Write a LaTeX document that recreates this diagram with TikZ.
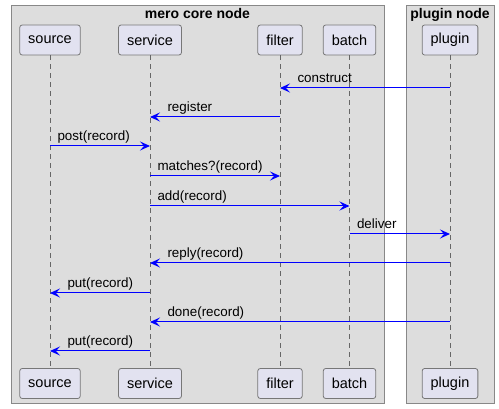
\documentclass[tikz,border=0pt]{standalone}
\usepackage{fontspec}
\setmainfont{Liberation Sans}
\usetikzlibrary{arrows.meta}

\definecolor{groupfill}{HTML}{DDDDDD}
\definecolor{groupline}{HTML}{888888}
\definecolor{partfill}{HTML}{E2E2F0}
\definecolor{partline}{HTML}{777777}
\definecolor{msgblue}{HTML}{0000FF}

\tikzset{
  group/.style={fill=groupfill, draw=groupline, line width=1pt},
  grouptitle/.style={anchor=base, font=\fontsize{14}{16}\selectfont\bfseries},
  part/.style={draw=partline, fill=partfill, rounded corners=2.5pt, line width=0.8pt,
    inner xsep=8.5pt, minimum height=30pt, font=\fontsize{14.5}{16}\selectfont},
  life/.style={draw=black!60, line width=0.8pt, dash pattern=on 5pt off 4pt},
  msg/.style={draw=msgblue, line width=1pt, -{Stealth[length=10pt, width=9pt, inset=4pt]}},
  lbl/.style={anchor=base west, yshift=5pt, inner sep=0pt, font=\fontsize{13.4}{15}\selectfont}
}

\begin{document}
\begin{tikzpicture}[x=1pt, y=-1pt]
    \useasboundingbox (0,0) rectangle (499,409);
    % the two groups
    \filldraw[group] (11,6) rectangle (384,404);
    \filldraw[group] (406,6) rectangle (494,404);
    \node[grouptitle] at (197.5,19) {mero core node};
    \node[grouptitle] at (450,19) {plugin node};
    % participants, top and bottom
    \node[part] (source) at (50,40) {source};
    \node[part] (service) at (150,40) {service};
    \node[part] (filter) at (280,40) {filter};
    \node[part] (batch) at (349.5,40) {batch};
    \node[part] (plugin) at (450,40) {plugin};
    \node[part] (sourceB) at (50,383.5) {source};
    \node[part] (serviceB) at (150,383.5) {service};
    \node[part] (filterB) at (280,383.5) {filter};
    \node[part] (batchB) at (349.5,383.5) {batch};
    \node[part] (pluginB) at (450,383.5) {plugin};
    % lifelines and one point per message row
    \foreach \n in {source,service,filter,batch,plugin} {
        \draw[life] (\n.south) -- (\n B.north);
        \foreach \r/\y in {1/88,2/117,3/146,4/176,5/206,6/234,7/263,8/293,9/322,10/351}
            \coordinate (\n\r) at (\n.south |- 0,\y);
    }
    % messages
    \draw[msg] (plugin1) -- (filter1) node[lbl, at end, xshift=17pt] {construct};
    \draw[msg] (filter2) -- (service2) node[lbl, at end, xshift=17pt] {register};
    \draw[msg] (source3) -- (service3) node[lbl, at start, xshift=7pt] {post(record)};
    \draw[msg] (service4) -- (filter4) node[lbl, at start, xshift=7pt] {matches?(record)};
    \draw[msg] (service5) -- (batch5) node[lbl, at start, xshift=7pt] {add(record)};
    \draw[msg] (batch6) -- (plugin6) node[lbl, at start, xshift=7pt] {deliver};
    \draw[msg] (plugin7) -- (service7) node[lbl, at end, xshift=17pt] {reply(record)};
    \draw[msg] (service8) -- (source8) node[lbl, at end, xshift=17pt] {put(record)};
    \draw[msg] (plugin9) -- (service9) node[lbl, at end, xshift=17pt] {done(record)};
    \draw[msg] (service10) -- (source10) node[lbl, at end, xshift=17pt] {put(record)};
\end{tikzpicture}
\end{document}
